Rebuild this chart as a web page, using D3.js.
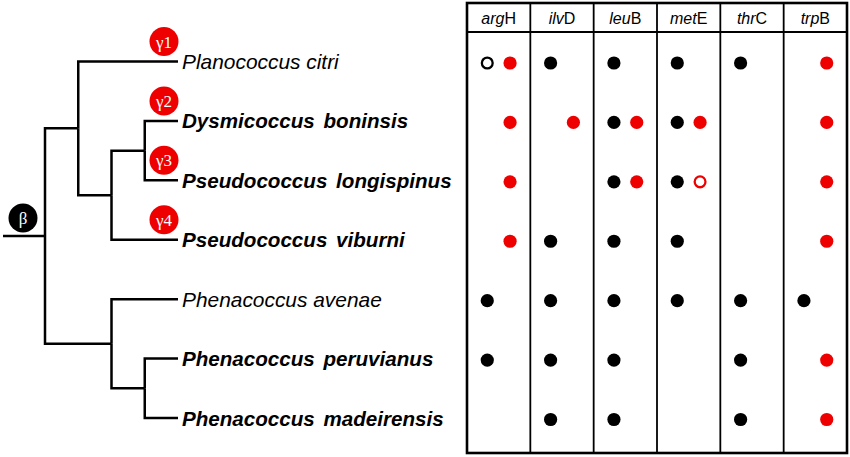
<!doctype html>
<html>
<head>
<meta charset="utf-8">
<title>Gene retention per mealybug species</title>
<script src="https://d3js.org/d3.v7.min.js"></script>
<style>
 body { margin: 0; background: #fff; }
 text { font-family: "Liberation Sans", Arial, sans-serif; }
</style>
</head>
<body>
<script>
// species (tree leaves, top to bottom)
var species = ["Planococcus citri", "Dysmicoccus boninsis", "Pseudococcus longispinus",
  "Pseudococcus viburni", "Phenacoccus avenae", "Phenacoccus peruvianus", "Phenacoccus madeirensis"];
var speciesBold = [false, true, true, true, false, true, true];

// tree topology, leaves given by index into species
var treeShape = [[0, [[1, 2], 3]], [4, [5, 6]]];

// gene columns: italic part + upright letter
var geneItalic = ["arg", "ilv", "leu", "met", "thr", "trp"];
var geneLetter = ["H", "D", "B", "E", "C", "B"];

// 0 = absent, 1 = filled dot, 2 = open dot
var blackDots = [
  [2, 1, 1, 1, 1, 0],
  [0, 0, 1, 1, 0, 0],
  [0, 0, 1, 1, 0, 0],
  [0, 1, 1, 1, 0, 0],
  [1, 1, 1, 1, 1, 1],
  [1, 1, 1, 0, 1, 0],
  [0, 1, 1, 0, 1, 0]
];
var redDots = [
  [1, 0, 0, 0, 0, 1],
  [1, 1, 1, 1, 0, 1],
  [1, 0, 1, 2, 0, 1],
  [1, 0, 0, 0, 0, 1],
  [0, 0, 0, 0, 0, 0],
  [0, 0, 0, 0, 0, 1],
  [0, 0, 0, 0, 0, 1]
];

// red badges on leaves
var gammaLabels = ["γ1", "γ2", "γ3", "γ4"];
var gammaLeaves = [0, 1, 2, 3];
var rootLabel = "β";

var W = 850, H = 457;
var red = "#ee0000";

var svg = d3.select("body").append("svg")
  .attr("width", W)
  .attr("height", H);

var genes = geneItalic.map(function(g, i) { return g + geneLetter[i]; });

var yRow = d3.scalePoint().domain(species).range([61.5, 418]);
var xHeight = d3.scaleLinear().domain([0, 4]).range([178, 45]);
var xCol = d3.scaleBand().domain(genes).range([467, 847]);

// build hierarchy from nested arrays
function toNode(s) {
  if (Array.isArray(s)) return { children: s.map(toNode) };
  return { leaf: s, name: species[s] };
}
var root = d3.hierarchy(toNode(treeShape));

// y position: leaves by row, inner nodes mid of first/last child
root.eachAfter(function(d) {
  if (!d.children) d.py = yRow(d.data.name);
  else d.py = (d.children[0].py + d.children[d.children.length - 1].py) / 2;
  d.px = xHeight(d.height);
});

var tree = svg.append("g")
  .attr("fill", "none")
  .attr("stroke", "black")
  .attr("stroke-width", 2.5);

// elbows from each parent to its children
root.links().forEach(function(l) {
  tree.append("path")
    .attr("d", "M" + l.source.px + "," + l.source.py +
      "V" + l.target.py + "H" + (l.target.children ? l.target.px : xHeight(0)));
});
// root stem
tree.append("line")
  .attr("x1", 3).attr("y1", root.py)
  .attr("x2", root.px).attr("y2", root.py);

// species labels
svg.append("g").selectAll("text")
  .data(species)
  .join("text")
  .attr("x", 182)
  .attr("y", function(d) { return yRow(d) + 7.5; })
  .attr("font-size", function(d, i) { return speciesBold[i] ? 20.6 : 20.9; })
  .attr("font-style", "italic")
  .attr("font-weight", function(d, i) { return speciesBold[i] ? "bold" : "normal"; })
  .attr("word-spacing", function(d, i) { return speciesBold[i] ? 3 : 0; })
  .text(function(d) { return d; });

// badges
var badges = gammaLabels.map(function(t, i) {
  return { text: t, x: 164, y: yRow(species[gammaLeaves[i]]) - 20, fill: red };
});
badges.push({ text: rootLabel, x: 23, y: root.py - 18, fill: "black" });

var bg = svg.append("g").selectAll("g")
  .data(badges)
  .join("g")
  .attr("transform", function(d) { return "translate(" + d.x + "," + d.y + ")"; });
bg.append("circle")
  .attr("r", 14.5)
  .attr("fill", function(d) { return d.fill; });
bg.append("text")
  .attr("text-anchor", "middle")
  .attr("y", 6)
  .attr("fill", "#ffffff")
  .attr("font-size", 17)
  .style("font-family", "'Liberation Serif', 'Times New Roman', serif")
  .text(function(d) { return d.text; });

// table frame
var table = svg.append("g")
  .attr("fill", "none")
  .attr("stroke", "black");
var x0 = xCol.range()[0], x1 = xCol.range()[1];
table.append("rect")
  .attr("x", x0).attr("y", 3)
  .attr("width", x1 - x0).attr("height", 450)
  .attr("stroke-width", 2.6);
table.append("line")
  .attr("x1", x0).attr("x2", x1)
  .attr("y1", 32).attr("y2", 32)
  .attr("stroke-width", 2.2);
table.selectAll(".div")
  .data(genes.slice(1))
  .join("line")
  .attr("x1", function(d) { return xCol(d); })
  .attr("x2", function(d) { return xCol(d); })
  .attr("y1", 3).attr("y2", 453)
  .attr("stroke-width", 1.8);

// header labels
var head = svg.append("g").selectAll("text")
  .data(genes)
  .join("text")
  .attr("x", function(d) { return xCol(d) + xCol.bandwidth() / 2; })
  .attr("y", 24)
  .attr("text-anchor", "middle")
  .attr("font-size", 16);
head.append("tspan")
  .attr("font-style", "italic")
  .text(function(d, i) { return geneItalic[i]; });
head.append("tspan")
  .text(function(d, i) { return geneLetter[i]; });

// dots
var dots = [];
species.forEach(function(s, r) {
  genes.forEach(function(g, c) {
    if (blackDots[r][c]) dots.push({ s: s, g: g, side: 0, color: "black", kind: blackDots[r][c] });
    if (redDots[r][c]) dots.push({ s: s, g: g, side: 1, color: red, kind: redDots[r][c] });
  });
});

svg.append("g").selectAll("circle")
  .data(dots)
  .join("circle")
  .attr("cx", function(d) { return xCol(d.g) + xCol.bandwidth() * (d.side ? 0.68 : 0.32); })
  .attr("cy", function(d) { return yRow(d.s) + 1.5; })
  .attr("r", function(d) { return d.kind === 2 ? 5.4 : 6.6; })
  .attr("fill", function(d) { return d.kind === 2 ? "white" : d.color; })
  .attr("stroke", function(d) { return d.kind === 2 ? d.color : "none"; })
  .attr("stroke-width", 2.3);
</script>
</body>
</html>
